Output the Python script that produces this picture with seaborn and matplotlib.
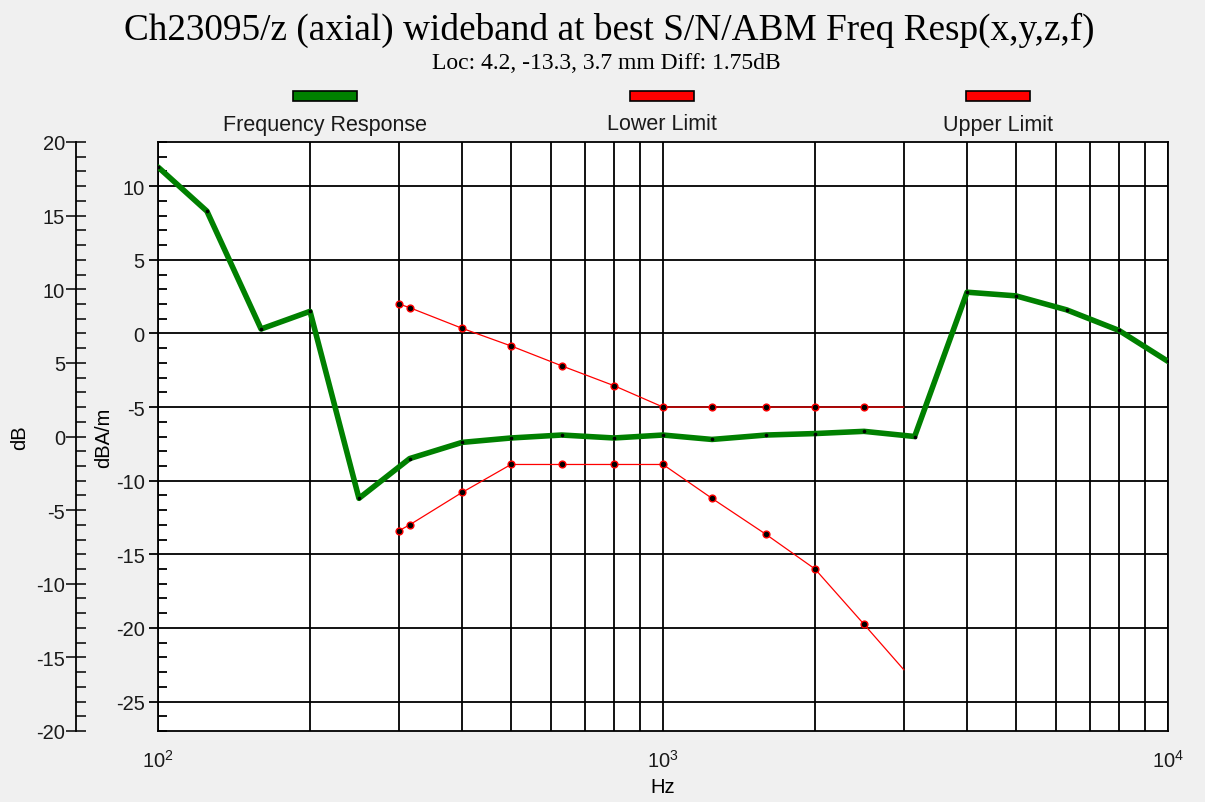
import matplotlib
matplotlib.use("Agg")
import matplotlib.pyplot as plt
import seaborn as sns
from matplotlib.patches import Rectangle
from matplotlib.ticker import MultipleLocator, LogLocator

# data (third-octave bands, dBA/m scale)
freq_hz = [100, 125, 160, 200, 250, 315, 400, 500, 630, 800, 1000,
           1250, 1600, 2000, 2500, 3150, 4000, 5000, 6300, 8000, 10000]
response_db = [11.3, 8.3, 0.3, 1.5, -11.2, -8.5, -7.4, -7.1, -6.9, -7.1, -6.9,
               -7.2, -6.9, -6.8, -6.65, -7.0, 2.8, 2.55, 1.6, 0.2, -1.9]

limit_hz = [300, 315, 400, 500, 630, 800, 1000, 1250, 1600, 2000, 2500, 3000]
upper_db = [2.0, 1.75, 0.35, -0.85, -2.2, -3.55, -5.0, -5.0, -5.0, -5.0, -5.0, -5.0]
lower_db = [-13.4, -13.0, -10.8, -8.9, -8.9, -8.9, -8.9, -11.2, -13.65, -16.0, -19.75, -22.85]

legend_labels = ["Frequency Response", "Lower Limit", "Upper Limit"]
legend_colors = ["#008000", "#ff0000", "#ff0000"]

sns.set_style("white")
plt.rcParams["font.family"] = ["Liberation Sans", "DejaVu Sans"]
plt.rcParams["axes.unicode_minus"] = False
plt.rcParams["text.color"] = "black"
plt.rcParams["axes.labelcolor"] = "black"

bg = "#f0f0f0"
fig = plt.figure(figsize=(12.05, 8.03), dpi=100, facecolor=bg)
ax = fig.add_axes([158 / 1205, 71 / 803, 1010 / 1205, 589 / 803])
ax.set_facecolor("white")

# curves
sns.lineplot(x=freq_hz, y=response_db, ax=ax, color="#008000", linewidth=4.0, zorder=4)
sns.scatterplot(x=freq_hz, y=response_db, ax=ax, color="black", s=7, linewidth=0, zorder=5)

sns.lineplot(x=limit_hz, y=lower_db, ax=ax, color="#ff0000", linewidth=0.9, zorder=4)
sns.lineplot(x=limit_hz, y=upper_db, ax=ax, color="#ff0000", linewidth=0.9, zorder=4)
sns.scatterplot(x=limit_hz[:-1], y=lower_db[:-1], ax=ax, color="black", edgecolor="#ff0000",
                s=24, linewidth=1.0, zorder=5)
sns.scatterplot(x=limit_hz[:-1], y=upper_db[:-1], ax=ax, color="black", edgecolor="#ff0000",
                s=24, linewidth=1.0, zorder=5)

# inner axis (dBA/m)
ax.set_xscale("log")
ax.set_xlim(100, 10000)
ax.set_ylim(-27, 13)
ax.yaxis.set_major_locator(MultipleLocator(5))
ax.yaxis.set_minor_locator(MultipleLocator(1))
ax.xaxis.set_major_locator(LogLocator(base=10))
ax.xaxis.set_minor_locator(LogLocator(base=10, subs=range(2, 10)))
ax.grid(which="major", axis="y", color="black", linewidth=1.3)
ax.grid(which="both", axis="x", color="black", linewidth=1.3)
ax.set_axisbelow(True)
for s in ax.spines.values():
    s.set_color("black")
    s.set_linewidth(1.3)
ax.tick_params(axis="y", which="major", direction="out", length=6.5, width=1.3,
               labelsize=14.5, colors="black", labelcolor="#1a1a1a", pad=3)
ax.tick_params(axis="y", which="minor", direction="in", length=6.5, width=1.3, colors="black")
ax.tick_params(axis="x", which="major", direction="out", length=11, width=1.3,
               labelsize=14.5, labelcolor="#1a1a1a", pad=2)
ax.tick_params(axis="x", which="minor", direction="in", length=3, width=1.0)
ax.set_xlabel("Hz", fontsize=14.5, labelpad=4)
ax.set_ylabel("dBA/m", fontsize=14.5, labelpad=2)

# outer axis (dB)
ax2 = ax.twinx()
ax2.set_ylim(-20, 20)
ax2.yaxis.tick_left()
ax2.yaxis.set_label_position("left")
ax2.spines["left"].set_position(("outward", 59))
for side in ["right", "top", "bottom"]:
    ax2.spines[side].set_visible(False)
ax2.spines["left"].set_linewidth(1.3)
ax2.spines["left"].set_color("black")
ax2.yaxis.set_major_locator(MultipleLocator(5))
ax2.yaxis.set_minor_locator(MultipleLocator(1))
ax2.tick_params(axis="y", which="major", direction="inout", length=14, width=1.3,
                labelsize=14.5, labelcolor="#1a1a1a", pad=1)
ax2.tick_params(axis="y", which="minor", direction="in", length=7.5, width=1.3)
ax2.set_ylabel("dB", fontsize=14.5, labelpad=5)

# titles
fig.text(0.506, 0.9626, "Ch23095/z (axial) wideband at best S/N/ABM Freq Resp(x,y,z,f)",
         ha="center", va="center", fontsize=26.8, family=["Liberation Serif", "DejaVu Serif"])
fig.text(0.503, 0.9215, "Loc: 4.2, -13.3, 3.7 mm Diff: 1.75dB",
         ha="center", va="center", fontsize=17, family=["Liberation Serif", "DejaVu Serif"])

# legend: swatch above label
legend_x = [325, 662, 998]
for cx, lab, col in zip(legend_x, legend_labels, legend_colors):
    fig.patches.append(Rectangle(((cx - 32) / 1205, 1 - 102 / 803), 64 / 1205, 10 / 803,
                                 transform=fig.transFigure, facecolor=col,
                                 edgecolor="black", linewidth=1.2))
    fig.text(cx / 1205, 1 - 125 / 803, lab, ha="center", va="center", fontsize=15.5,
             color="#1a1a1a")

fig.savefig("out.png", dpi=100, facecolor=bg)
